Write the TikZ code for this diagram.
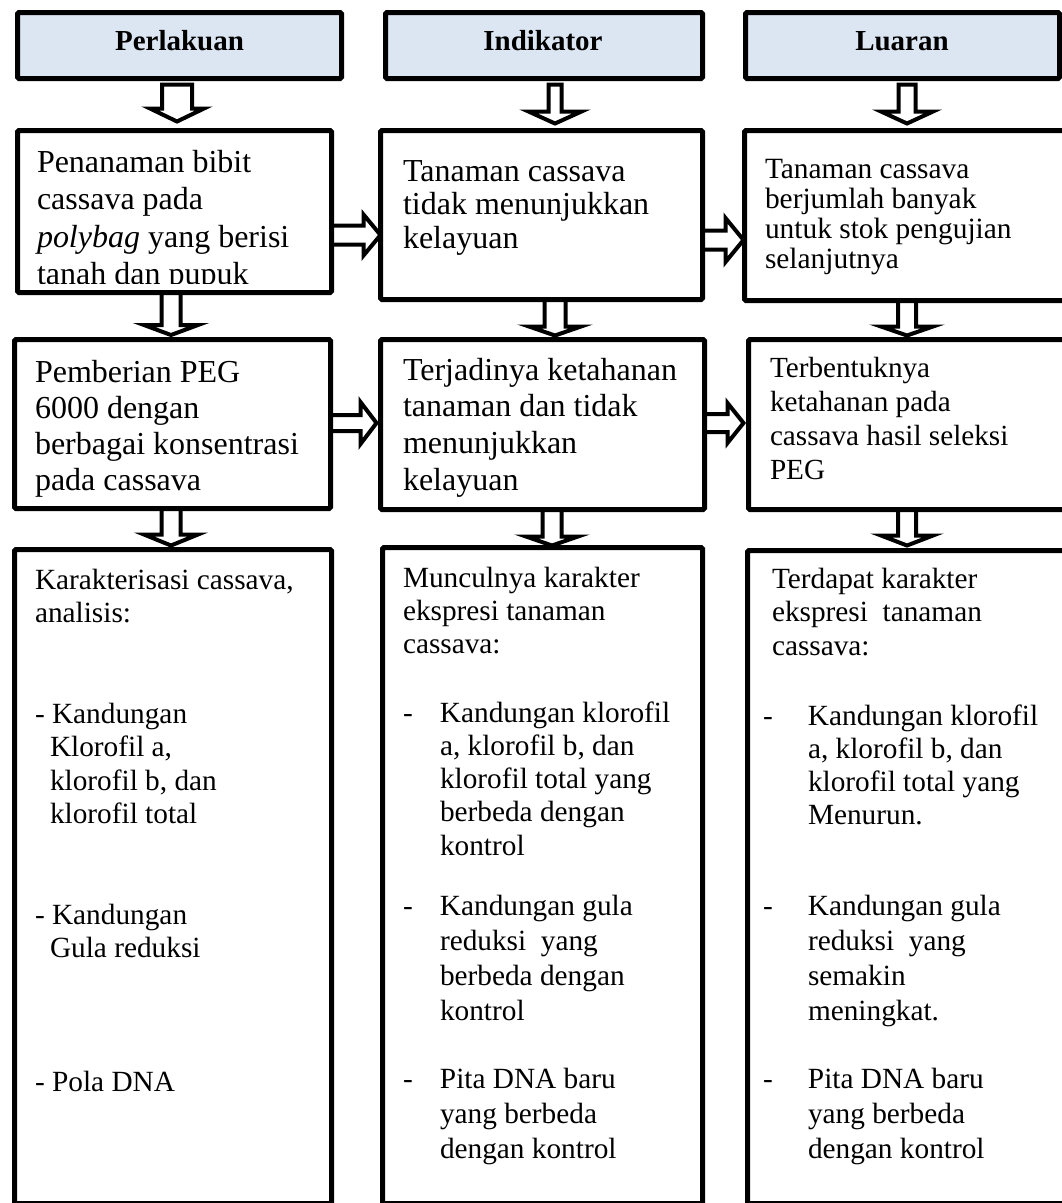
\documentclass[tikz,border=0pt]{standalone}
\usepackage{fontspec}
\setmainfont{Liberation Serif}
\usetikzlibrary{calc,backgrounds}
\definecolor{hdrblue}{RGB}{220,230,242}
\newcommand{\fsz}[2]{\fontsize{#1}{#2}\selectfont}
% down block arrow: from, to, x, shaft hw, head hw, head length, top offset, apex gap
\newcommand{\dnarr}[8]{%
\draw[blk] let \p1=(#1.south), \p2=(#2.north) in
 ({#3pt-#4pt},{\y1#7}) -- ({#3pt-#4pt},{\y2+#8pt+#6pt}) -- ({#3pt-#5pt},{\y2+#8pt+#6pt}) -- (#3pt,{\y2+#8pt})
 -- ({#3pt+#5pt},{\y2+#8pt+#6pt}) -- ({#3pt+#4pt},{\y2+#8pt+#6pt}) -- ({#3pt+#4pt},{\y1#7}) -- cycle;}
% right block arrow: from, to, y, shaft hw, head hw, head length, apex gap
\newcommand{\rtarr}[7]{%
\draw[blk] let \p1=(#1.east), \p2=(#2.west) in
 ({\x1-5pt},{-#3pt+#4pt}) -- ({\x2-#7pt-#6pt},{-#3pt+#4pt}) -- ({\x2-#7pt-#6pt},{-#3pt+#5pt}) -- ({\x2-#7pt},{-#3pt})
 -- ({\x2-#7pt-#6pt},{-#3pt-#5pt}) -- ({\x2-#7pt-#6pt},{-#3pt-#4pt}) -- ({\x1-5pt},{-#3pt-#4pt}) -- cycle;}
\begin{document}
\begin{tikzpicture}[x=1pt,y=-1pt,
 box/.style={draw=black,line width=5pt,fill=white,inner sep=0pt,outer sep=0pt,rounded corners=1.5pt},
 hdr/.style={box,fill=hdrblue},
 txt/.style={inner sep=0pt,outer sep=0pt,anchor=base west},
 hdrtxt/.style={inner sep=0pt,outer sep=0pt,anchor=base,font={\fsz{29}{34}\bfseries}},
 blk/.style={draw=black,fill=white,line width=4pt,line join=miter,miter limit=10}]
\useasboundingbox (0,0) rectangle (1062,1203);
\clip (0,0) rectangle (1062,1203);
% headers
\node[hdr,minimum width=324pt,minimum height=66pt] (h1) at (179.5,45.5) {};
\node[hdr,minimum width=317pt,minimum height=66pt] (h2) at (544,45.5) {};
\node[hdr,minimum width=314pt,minimum height=66pt] (h3) at (902.5,45.5) {};
\node[hdrtxt] (h1t) at (179.5,50) {Perlakuan};
\node[hdrtxt] (h2t) at (543,50) {Indikator};
\node[hdrtxt] (h3t) at (902,50) {Luaran};
% row 1
\node[box,minimum width=314pt,minimum height=162pt] (b1) at (174.5,211.5) {};
\node[box,minimum width=322pt,minimum height=169pt] (b2) at (541.5,215) {};
\node[box,minimum width=328pt,minimum height=170pt] (b3) at (908.5,215.5) {};
% row 2
\node[box,minimum width=316pt,minimum height=169pt] (b4) at (172.5,424) {};
\node[box,minimum width=324pt,minimum height=170pt] (b5) at (542.5,424.5) {};
\node[box,minimum width=324pt,minimum height=170pt] (b6) at (910.5,424.5) {};
% row 3
\node[box,minimum width=317pt,minimum height=654pt] (b7) at (173,876.5) {};
\node[box,minimum width=320pt,minimum height=656pt] (b8) at (542.5,875.5) {};
\node[box,minimum width=325pt,minimum height=653pt] (b9) at (910,877) {};
% arrows
\begin{pgfonlayer}{background}
\dnarr{h1}{b1}{177}{15}{27}{13}{-6pt}{9}
\dnarr{h2}{b2}{555}{6.5}{26.5}{12}{-6pt}{7}
\dnarr{h3}{b3}{907}{8.5}{26}{12}{-6pt}{7}
\dnarr{b1}{b4}{171}{9.5}{27}{10}{+5pt}{4.5}
\dnarr{b2}{b5}{555}{10.5}{26}{9}{+5pt}{4}
\dnarr{b3}{b6}{907}{9}{26}{9}{+5pt}{4}
\dnarr{b4}{b7}{171}{9.5}{27}{11}{+5pt}{4}
\dnarr{b5}{b8}{552}{9.5}{26}{9}{+5pt}{2}
\dnarr{b6}{b9}{907}{9}{26}{10}{+5pt}{5}
\rtarr{b1}{b2}{235}{9.5}{20.5}{17}{0}
\rtarr{b2}{b3}{240}{9.5}{22}{18}{1}
\rtarr{b4}{b5}{423}{8}{21}{16}{4}
\rtarr{b5}{b6}{423}{9}{20}{16}{5}
\end{pgfonlayer}
% texts row 1
\begin{scope}
\clip (15,128) rectangle (340,283.5);
\node[txt] (t1) at (37,172) {\parbox[t]{300pt}{\fsz{32}{37.5}Penanaman bibit\\cassava pada\\\textit{polybag} yang berisi\\tanah dan pupuk}};
\end{scope}
\node[txt] (t2) at (403,181.5) {\parbox[t]{300pt}{\fsz{32}{33.3}Tanaman cassava\\tidak menunjukkan\\kelayuan}};
\node[txt] (t3) at (765,178) {\parbox[t]{300pt}{\fsz{29.4}{30}Tanaman cassava\\berjumlah banyak\\untuk stok pengujian\\selanjutnya}};
% texts row 2
\node[txt] (t4) at (35,382) {\parbox[t]{300pt}{\fsz{32}{36.3}Pemberian PEG\\6000 dengan\\berbagai konsentrasi\\pada cassava}};
\node[txt] (t5) at (403,380) {\parbox[t]{300pt}{\fsz{32}{36.7}Terjadinya ketahanan\\tanaman dan tidak\\menunjukkan\\kelayuan}};
\node[txt] (t6) at (770,377) {\parbox[t]{300pt}{\fsz{29.2}{34}Terbentuknya\\ketahanan pada\\cassava hasil seleksi\\PEG}};
% texts row 3
\node[txt] (t7) at (35,589) {\parbox[t]{300pt}{\fsz{29.3}{33.5}Karakterisasi cassava,\\analisis:\\[67pt]- Kandungan\\\hspace*{15pt}Klorofil a,\\\hspace*{15pt}klorofil b, dan\\\hspace*{15pt}klorofil total\\[67pt]- Kandungan\\\hspace*{15pt}Gula reduksi\\[100.5pt]- Pola DNA}};
\node[txt] (t8a) at (403,587) {\parbox[t]{300pt}{\fsz{29.3}{33.3}Munculnya karakter\\ekspresi tanaman\\cassava:}};
\node[txt] (t8b) at (440,722) {\parbox[t]{280pt}{\fsz{29.3}{33.3}\leavevmode\llap{\makebox[37pt][l]{-}}Kandungan klorofil\\a, klorofil b, dan\\klorofil total yang\\berbeda dengan\\kontrol}};
\node[txt] (t8c) at (440,915) {\parbox[t]{280pt}{\fsz{29.3}{35}\leavevmode\llap{\makebox[37pt][l]{-}}Kandungan gula\\reduksi\ \ yang\\berbeda dengan\\kontrol}};
\node[txt] (t8d) at (440,1088) {\parbox[t]{280pt}{\fsz{29.3}{35}\leavevmode\llap{\makebox[37pt][l]{-}}Pita DNA baru\\yang berbeda\\dengan kontrol}};
\node[txt] (t9a) at (772,588) {\parbox[t]{300pt}{\fsz{29.3}{33.5}Terdapat karakter\\ekspresi\ \ tanaman\\cassava:}};
\node[txt] (t9b) at (808,725) {\parbox[t]{280pt}{\fsz{29.3}{33.3}\leavevmode\llap{\makebox[45pt][l]{-}}Kandungan klorofil\\a, klorofil b, dan\\klorofil total yang\\Menurun.}};
\node[txt] (t9c) at (808,915) {\parbox[t]{280pt}{\fsz{29.3}{35}\leavevmode\llap{\makebox[45pt][l]{-}}Kandungan gula\\reduksi\ \ yang\\semakin\\meningkat.}};
\node[txt] (t9d) at (808,1088) {\parbox[t]{280pt}{\fsz{29.3}{35}\leavevmode\llap{\makebox[45pt][l]{-}}Pita DNA baru\\yang berbeda\\dengan kontrol}};
\end{tikzpicture}
\end{document}
